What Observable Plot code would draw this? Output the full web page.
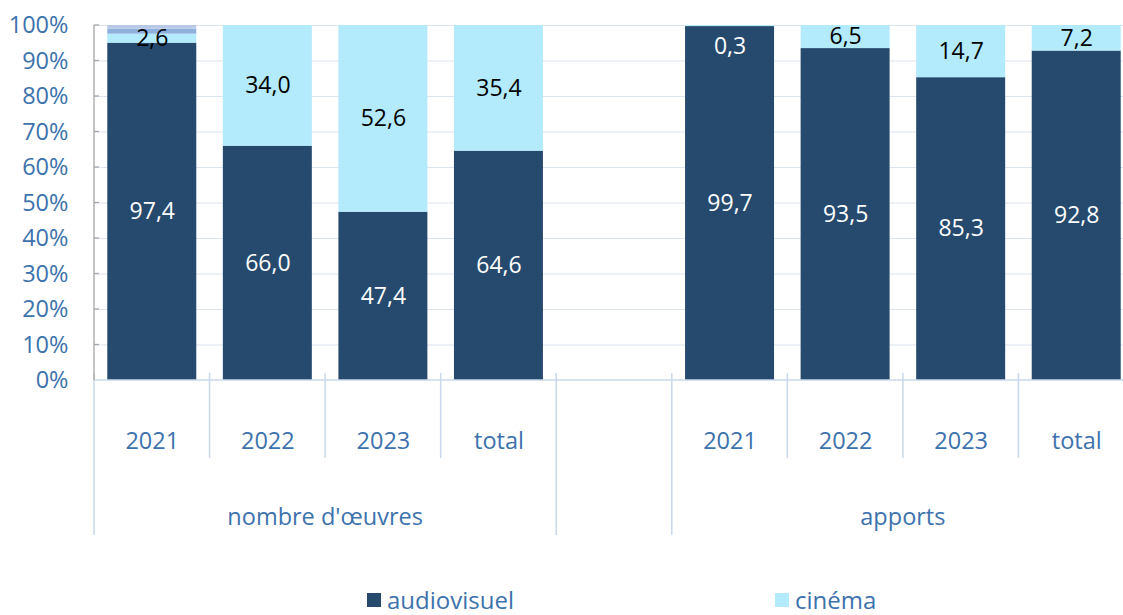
<!DOCTYPE html>
<html><head><meta charset="utf-8">
<script src="https://cdn.jsdelivr.net/npm/d3@7"></script>
<script src="https://cdn.jsdelivr.net/npm/@observablehq/plot@0.6"></script>
<style>
body{margin:0;background:#fff;font-family:"Open Sans",sans-serif;overflow:hidden;}
#legend{position:relative;height:30px;width:1123px;}
.item{position:absolute;top:0;display:flex;align-items:center;font-size:24px;color:#3c72ad;height:30px;line-height:30px;white-space:nowrap}
.sw{width:14px;height:14px;margin-right:6px;display:inline-block}
</style></head><body>
<div id="chart"></div><div id="legend"></div>
<script>
const groups = ["nombre d'œuvres", "apports"];
const periods = ["2021", "2022", "2023", "total"];
const seriesNames = ["audiovisuel", "cinéma", "autre A", "autre B"];
const audiovisuel = [97.4, 66.0, 47.4, 64.6, 99.7, 93.5, 85.3, 92.8];
const cinema = [2.6, 34.0, 52.6, 35.4, 0.3, 6.5, 14.7, 7.2];
const autreA = [1.4, 0, 0, 0, 0, 0, 0, 0];
const autreB = [1.1, 0, 0, 0, 0, 0, 0, 0];
const colors = ["#264a6e", "#b3eafc", "#8fb0dc", "#b7c9e6"];
const legendSeries = ["audiovisuel", "cinéma"];
const yTicks = [0, 0.1, 0.2, 0.3, 0.4, 0.5, 0.6, 0.7, 0.8, 0.9, 1];

const textBlue = "#3c72ad";
const lineBlue = "#c9d8ea";
const gridColor = "#dbe4ef";

// band keys: group|period, with an empty gap slot between groups
const keys = [];
groups.forEach((g, gi) => {
  if (gi > 0) keys.push("gap");
  periods.forEach(p => keys.push(gi + "|" + p));
});
const seriesValues = [audiovisuel, cinema, autreA, autreB];
const rows = [];
seriesNames.forEach((s, si) => {
  groups.forEach((g, gi) => {
    periods.forEach((p, pi) => {
      rows.push({key: gi + "|" + p, group: g, period: p, series: s, value: seriesValues[si][gi * periods.length + pi]});
    });
  });
});
const fmt = v => v.toFixed(1).replace(".", ",");
const stackOpts = (extra) => Plot.stackY({offset: "normalize", x: "key", y: "value", ...extra});

const chart = Plot.plot({
  width: 1123, height: 585,
  marginLeft: 94, marginRight: 0, marginTop: 25, marginBottom: 205,
  style: {fontFamily: "'Open Sans', sans-serif", fontSize: "24px", background: "white"},
  x: {type: "band", domain: keys, range: [94, 1134], round: false, paddingInner: 0.23, paddingOuter: 0.115, axis: null},
  y: {domain: [0, 1], axis: null},
  color: {domain: seriesNames, range: colors},
  marks: [
    Plot.gridY(yTicks.slice(1), {stroke: gridColor, strokeOpacity: 1}),
    Plot.axisY(yTicks, {tickSize: 0, tickPadding: 26, tickFormat: d => Math.round(d * 100) + "%", color: textBlue, fontSize: 23.5, label: null}),
    Plot.axisX({tickSize: 0, tickPadding: 52, tickFormat: k => k === "gap" ? "" : k.split("|")[1], color: textBlue, fontSize: 23.5, label: null}),
    Plot.barY(rows, stackOpts({fill: "series"})),
    Plot.text(rows, stackOpts({text: d => d.series === "audiovisuel" ? fmt(d.value) : "", fill: "white", fontSize: 23})),
    Plot.text(rows, stackOpts({text: d => d.series === "cinéma" && d.value >= 1 ? fmt(d.value) : "", fill: "black", fontSize: 23})),
    Plot.text(rows, Plot.stackY2({offset: "normalize", x: "key", y: "value", text: d => d.series === "cinéma" && d.value < 1 ? fmt(d.value) : "", fill: "white", fontSize: 23, dy: 21}))
  ]
});
document.getElementById("chart").appendChild(chart);

// category separators, base line, y axis line and group labels, from Plot's scales
const xs = chart.scale("x"), ys = chart.scale("y");
const svg = d3.select(chart);
const step = xs.step, bw = xs.bandwidth;
const bounds = keys.map(k => xs.apply(k) - (step - bw) / 2);
bounds.push(bounds[bounds.length - 1] + step);
const y0 = ys.apply(0), y1 = ys.apply(1);
const g = svg.append("g");
bounds.forEach((bx, i) => {
  const k = keys[i], prev = keys[i - 1];
  const long = i === 0 || i === keys.length || k === "gap" || prev === "gap";
  g.append("line").attr("x1", bx).attr("x2", bx).attr("y1", y0 - 7).attr("y2", long ? 535 : 458)
    .attr("stroke", lineBlue).attr("stroke-width", 1.5);
});
g.append("line").attr("x1", bounds[0]).attr("x2", bounds[bounds.length - 1]).attr("y1", y0).attr("y2", y0)
  .attr("stroke", lineBlue).attr("stroke-width", 1.5);
g.append("line").attr("x1", bounds[0]).attr("x2", bounds[0]).attr("y1", y1).attr("y2", y0)
  .attr("stroke", "#a6a6a6").attr("stroke-width", 1.3);
yTicks.slice(1).forEach(t => {
  g.append("line").attr("x1", bounds[0]).attr("x2", bounds[0] + 5).attr("y1", ys.apply(t)).attr("y2", ys.apply(t))
    .attr("stroke", "#a6a6a6").attr("stroke-width", 1.3);
});
groups.forEach((name, gi) => {
  const first = xs.apply(gi + "|" + periods[0]) - (step - bw) / 2;
  const last = xs.apply(gi + "|" + periods[periods.length - 1]) + bw + (step - bw) / 2;
  g.append("text").attr("x", (first + last) / 2).attr("y", 517).attr("dy", "0.35em")
    .attr("text-anchor", "middle").attr("fill", textBlue).attr("font-size", 23.5).text(name);
});

// legend
const legendX = [367, 775];
const leg = document.getElementById("legend");
legendSeries.forEach((s, i) => {
  const it = document.createElement("div");
  it.className = "item";
  it.style.left = legendX[i] + "px";
  it.innerHTML = `<span class="sw" style="background:${colors[seriesNames.indexOf(s)]}"></span>${s}`;
  leg.appendChild(it);
});
</script>
</body></html>
